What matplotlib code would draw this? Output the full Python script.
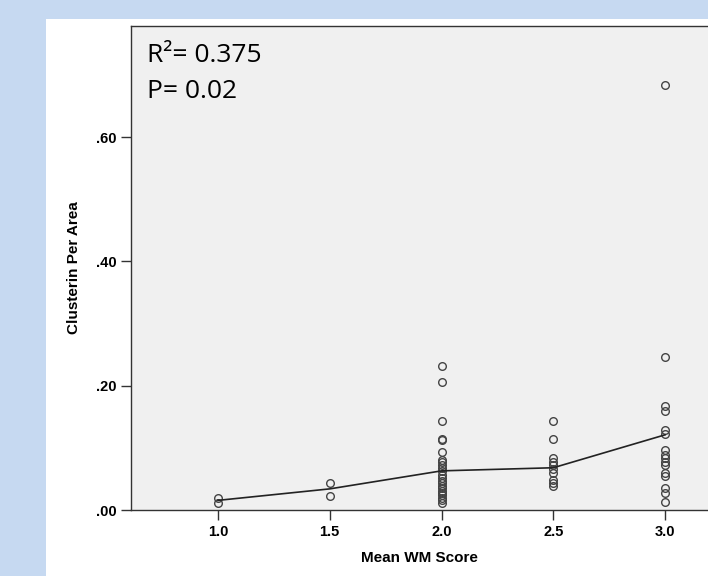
import matplotlib.pyplot as plt
from matplotlib.patches import Rectangle
from matplotlib.ticker import FuncFormatter

# valores
score_10 = [0.019, 0.012]
score_15 = [0.043, 0.0225]
score_20 = [0.232, 0.206, 0.144, 0.114, 0.112, 0.093, 0.080, 0.077, 0.073, 0.068,
            0.062, 0.056, 0.052, 0.047, 0.043, 0.039, 0.035, 0.031, 0.028, 0.024,
            0.020, 0.016, 0.011]
score_25 = [0.143, 0.114, 0.083, 0.078, 0.072, 0.066, 0.059, 0.048, 0.043, 0.038]
score_30 = [0.684, 0.247, 0.168, 0.160, 0.129, 0.123, 0.097, 0.088, 0.083, 0.078,
            0.072, 0.059, 0.054, 0.035, 0.028, 0.013]

mean_x = [1.0, 1.5, 2.0, 2.5, 3.0]
mean_y = [0.0155, 0.034, 0.063, 0.068, 0.121]

x_ticks = [1.0, 1.5, 2.0, 2.5, 3.0]
y_ticks = [0.0, 0.2, 0.4, 0.6]

groups = [(1.0, score_10), (1.5, score_15), (2.0, score_20), (2.5, score_25), (3.0, score_30)]

fig = plt.figure(figsize=(7.08, 5.76), dpi=100)
fig.patch.set_facecolor('#c6d9f1')
# painel branco
fig.patches.append(Rectangle((46 / 708, 0), 1 - 46 / 708, 1 - 19 / 576,
                             transform=fig.transFigure, facecolor='white',
                             edgecolor='none', zorder=-5))

ax = fig.add_axes([131 / 708, 66 / 576, 577 / 708, 484 / 576])
ax.set_zorder(2)
ax.set_facecolor('#f0f0f0')

for xv, vals in groups:
    ax.plot([xv] * len(vals), vals, linestyle='none', marker='o', markersize=5.5,
            markerfacecolor='none', markeredgecolor='#444444', markeredgewidth=1.0)

ax.plot(mean_x, mean_y, color='#222222', linewidth=1.2)

ax.set_xlim(0.611, 3.192)
ax.set_ylim(0, 0.779)
ax.set_xticks(x_ticks)
ax.set_yticks(y_ticks)
ax.xaxis.set_major_formatter(FuncFormatter(lambda v, p: f'{v:.1f}'))
ax.yaxis.set_major_formatter(FuncFormatter(lambda v, p: f'{v:.2f}'.lstrip('0')))
ax.tick_params(direction='out', length=7, width=1, color='#333333', labelsize=10.5)
for lab in ax.get_xticklabels() + ax.get_yticklabels():
    lab.set_fontfamily('Liberation Sans')
    lab.set_fontweight('bold')

ax.spines['right'].set_visible(False)
for s in ['left', 'bottom', 'top']:
    ax.spines[s].set_color('#333333')
    ax.spines[s].set_linewidth(1.0)

ax.set_xlabel('Mean WM Score', fontfamily='Liberation Sans', fontweight='bold',
              fontsize=11, labelpad=9)
ax.set_ylabel('Clusterin Per Area', fontfamily='Liberation Sans', fontweight='bold',
              fontsize=11, labelpad=11)

ax.text(0.027, 0.965, 'R²= 0.375', transform=ax.transAxes, fontsize=19,
        fontfamily='Open Sans', va='top', ha='left')
ax.text(0.027, 0.89, 'P= 0.02', transform=ax.transAxes, fontsize=19,
        fontfamily='Open Sans', va='top', ha='left')

fig.savefig('out.png', dpi=100, facecolor=fig.get_facecolor())
